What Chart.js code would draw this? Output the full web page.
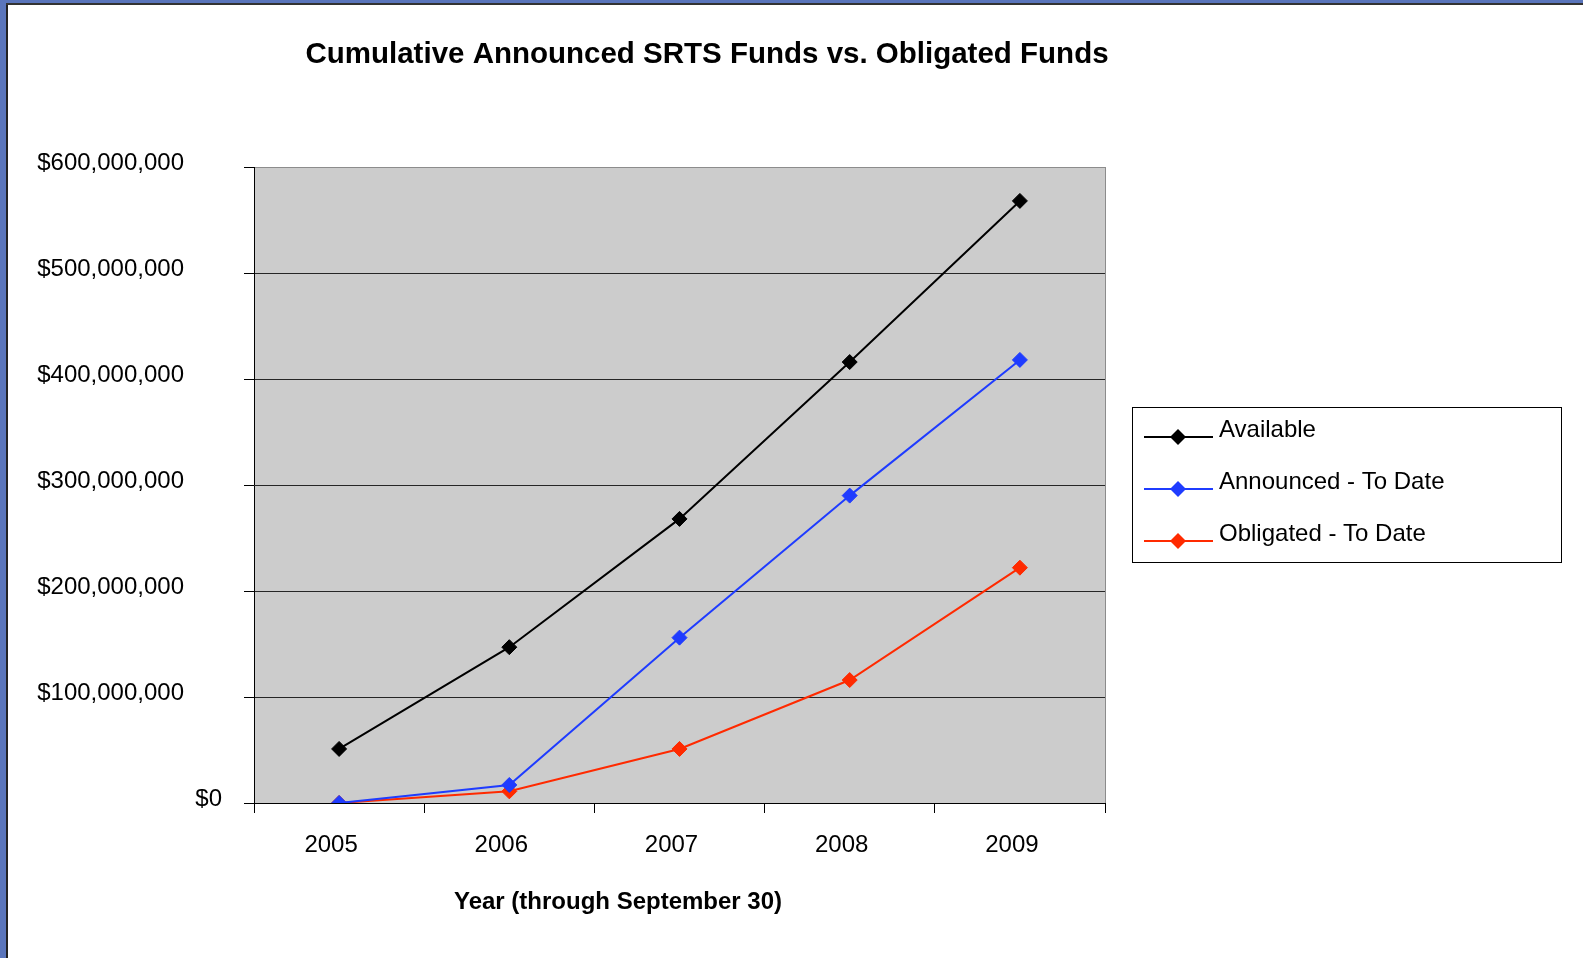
<!DOCTYPE html>
<html>
<head>
<meta charset="utf-8">
<script src="https://cdn.jsdelivr.net/npm/chart.js@4/dist/chart.umd.min.js"></script>
<style>
  html, body { margin: 0; padding: 0; background: #fff; overflow: hidden; }
  #chart { position: absolute; left: 0; top: 0; }
  .edge { position: absolute; }
</style>
</head>
<body>
<canvas id="chart" width="1583" height="958"></canvas>
<div class="edge" style="left:0;top:0;width:6px;height:958px;background:#5a75bb;"></div>
<div class="edge" style="left:0;top:0;width:1583px;height:3px;background:#5a75bb;"></div>
<div class="edge" style="left:6px;top:3px;width:2px;height:955px;background:#222;"></div>
<div class="edge" style="left:6px;top:3px;width:1577px;height:2px;background:#333;"></div>
<script>
// values (dollars)
const years = ['2005', '2006', '2007', '2008', '2009'];
const available = [51000000, 147000000, 268000000, 416000000, 568000000];
const announced = [0, 17000000, 156000000, 290000000, 418000000];
const obligated = [0, 11000000, 51000000, 116000000, 222000000];

const seriesNames = ['Available', 'Announced - To Date', 'Obligated - To Date'];
const seriesColors = ['#000000', '#1f3cff', '#ff2a00'];

const chartTitle = 'Cumulative Announced SRTS Funds vs. Obligated Funds';
const xTitle = 'Year (through September 30)';

const FONT = '"Liberation Sans", Arial, sans-serif';

function makeSet(i, data) {
    return {
        label: seriesNames[i],
        data: data,
        borderColor: seriesColors[i],
        backgroundColor: seriesColors[i],
        pointBackgroundColor: seriesColors[i],
        pointBorderColor: seriesColors[i],
        borderWidth: 2,
        pointStyle: 'rectRot',
        pointRadius: 7.5,
        pointBorderWidth: 1,
        tension: 0,
        fill: false
    };
}

// grey plot background + texts + boxed legend
const decor = {
    id: 'decor',
    beforeDraw(chart) {
        const a = chart.chartArea;
        const ctx = chart.ctx;
        ctx.save();
        ctx.fillStyle = '#cccccc';
        ctx.fillRect(a.left, a.top, a.right - a.left, a.bottom - a.top);
        ctx.strokeStyle = '#8c8c8c';
        ctx.lineWidth = 1;
        ctx.beginPath();
        ctx.moveTo(a.right + 0.5, a.top);
        ctx.lineTo(a.right + 0.5, a.bottom + 10);
        ctx.stroke();
        ctx.restore();

        // the $0 label sits further right in the original
        const items = chart.scales.y.getLabelItems();
        items.forEach(function (it) {
            if (it.label === '$0' && !it.moved) {
                it.options.translation[0] += 38;
                it.moved = true;
            }
        });
    },
    afterDraw(chart) {
        const ctx = chart.ctx;
        ctx.save();
        ctx.fillStyle = '#000';
        ctx.textAlign = 'center';
        ctx.textBaseline = 'middle';
        ctx.font = 'bold 29.5px ' + FONT;
        ctx.fillText(chartTitle, 707, 55);
        ctx.font = 'bold 24px ' + FONT;
        ctx.fillText(xTitle, 618, 902);

        // legend
        ctx.strokeStyle = '#000';
        ctx.lineWidth = 1;
        ctx.strokeRect(1132.5, 407.5, 429, 155);
        ctx.font = '24px ' + FONT;
        ctx.textAlign = 'left';
        ctx.textBaseline = 'alphabetic';
        chart.data.datasets.forEach(function (ds, i) {
            const y = 437 + i * 52;
            ctx.strokeStyle = ds.borderColor;
            ctx.lineWidth = 2;
            ctx.beginPath();
            ctx.moveTo(1144, y);
            ctx.lineTo(1213, y);
            ctx.stroke();
            ctx.fillStyle = ds.borderColor;
            ctx.beginPath();
            ctx.moveTo(1178, y - 8);
            ctx.lineTo(1186, y);
            ctx.lineTo(1178, y + 8);
            ctx.lineTo(1170, y);
            ctx.closePath();
            ctx.fill();
            ctx.fillStyle = '#000';
            ctx.fillText(ds.label, 1219, y);
        });
        ctx.restore();
    }
};

const ctx = document.getElementById('chart').getContext('2d');
const chart = new Chart(ctx, {
    type: 'line',
    data: {
        labels: years,
        datasets: [
            makeSet(0, available),
            makeSet(1, announced),
            makeSet(2, obligated)
        ]
    },
    options: {
        responsive: false,
        animation: false,
        devicePixelRatio: 1,
        layout: { padding: { top: 167, right: 478, bottom: 0, left: 0 } },
        plugins: {
            legend: { display: false },
            title: { display: false },
            tooltip: { enabled: false }
        },
        scales: {
            x: {
                offset: true,
                grid: {
                    offset: true,
                    drawOnChartArea: false,
                    drawTicks: true,
                    tickLength: 10,
                    tickColor: '#000'
                },
                border: { color: '#000', width: 1 },
                ticks: {
                    color: '#000',
                    font: { family: FONT, size: 24 },
                    padding: 18,
                    labelOffset: -8,
                    maxRotation: 0
                },
                afterFit(scale) { scale.height = 155; }
            },
            y: {
                min: 0,
                max: 600000000,
                grid: {
                    color: function (c) {
                        return c.tick && c.tick.value === 600000000 ? '#8c8c8c' : '#262626';
                    },
                    tickColor: '#000',
                    tickLength: 10,
                    lineWidth: 1
                },
                border: { color: '#000', width: 1 },
                ticks: {
                    stepSize: 100000000,
                    color: '#000',
                    font: { family: FONT, size: 24 },
                    padding: 60,
                    labelOffset: -4,
                    callback: function (v) { return '$' + Number(v).toLocaleString('en-US'); }
                },
                afterFit(scale) { scale.width = 254; }
            }
        }
    },
    plugins: [decor]
});
</script>
</body>
</html>
